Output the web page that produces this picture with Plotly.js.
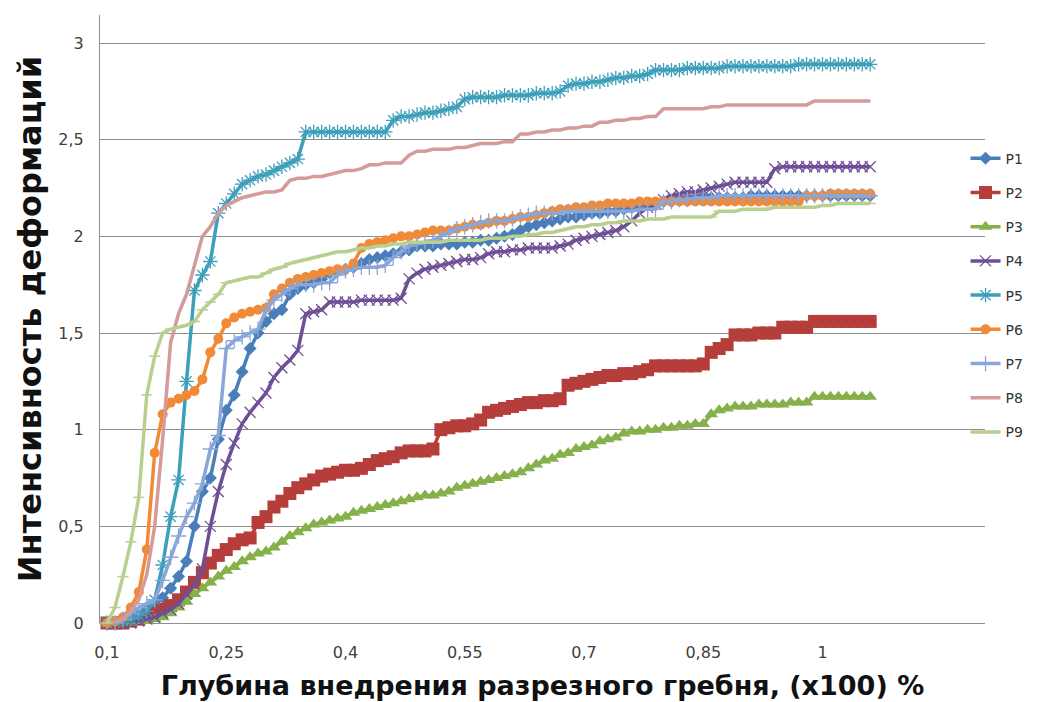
<!DOCTYPE html>
<html>
<head>
<meta charset="utf-8">
<script src="https://cdn.plot.ly/plotly-3.0.1.min.js"></script>
<style>
  html, body { margin: 0; padding: 0; background: #ffffff; }
  #chart { width: 1062px; height: 702px; }
</style>
</head>
<body>
<div id="chart"></div>
<script>
// Depth of penetration of the cutting ridge (x100 %)
const depth = [
  0.10, 0.11, 0.12, 0.13, 0.14, 0.15, 0.16, 0.17, 0.18, 0.19,
  0.20, 0.21, 0.22, 0.23, 0.24, 0.25, 0.26, 0.27, 0.28, 0.29,
  0.30, 0.31, 0.32, 0.33, 0.34, 0.35, 0.36, 0.37, 0.38, 0.39,
  0.40, 0.41, 0.42, 0.43, 0.44, 0.45, 0.46, 0.47, 0.48, 0.49,
  0.50, 0.51, 0.52, 0.53, 0.54, 0.55, 0.56, 0.57, 0.58, 0.59,
  0.60, 0.61, 0.62, 0.63, 0.64, 0.65, 0.66, 0.67, 0.68, 0.69,
  0.70, 0.71, 0.72, 0.73, 0.74, 0.75, 0.76, 0.77, 0.78, 0.79,
  0.80, 0.81, 0.82, 0.83, 0.84, 0.85, 0.86, 0.87, 0.88, 0.89,
  0.90, 0.91, 0.92, 0.93, 0.94, 0.95, 0.96, 0.97, 0.98, 0.99,
  1.00, 1.01, 1.02, 1.03, 1.04, 1.05, 1.06
];

// Strain intensity for each point P1..P9
const P1 = [
  0.00, 0.00, 0.00, 0.02, 0.04, 0.07, 0.10, 0.13, 0.18, 0.24,
  0.32, 0.50, 0.68, 0.75, 0.95, 1.10, 1.18, 1.30, 1.42, 1.50,
  1.56, 1.60, 1.62, 1.70, 1.73, 1.75, 1.76, 1.78, 1.81, 1.82,
  1.83, 1.84, 1.86, 1.88, 1.89, 1.90, 1.91, 1.92, 1.93, 1.95,
  1.95, 1.95, 1.96, 1.96, 1.96, 1.97, 1.97, 1.98, 1.98, 1.99,
  2.00, 2.01, 2.03, 2.05, 2.06, 2.07, 2.08, 2.09, 2.10, 2.10,
  2.11, 2.12, 2.12, 2.13, 2.13, 2.14, 2.15, 2.16, 2.16, 2.17,
  2.18, 2.18, 2.19, 2.19, 2.19, 2.20, 2.20, 2.20, 2.20, 2.20,
  2.20, 2.21, 2.21, 2.21, 2.21, 2.21, 2.21, 2.21, 2.21, 2.21,
  2.21, 2.21, 2.21, 2.21, 2.21, 2.21, 2.21
];
const P2 = [
  0.00, 0.00, 0.00, 0.01, 0.02, 0.03, 0.05, 0.07, 0.09, 0.12,
  0.16, 0.21, 0.26, 0.31, 0.35, 0.38, 0.41, 0.43, 0.44, 0.52,
  0.55, 0.60, 0.63, 0.67, 0.70, 0.72, 0.74, 0.76, 0.77, 0.78,
  0.79, 0.79, 0.80, 0.82, 0.84, 0.85, 0.86, 0.88, 0.89, 0.89,
  0.89, 0.90, 1.00, 1.01, 1.02, 1.02, 1.03, 1.05, 1.09, 1.10,
  1.11, 1.12, 1.13, 1.14, 1.14, 1.15, 1.15, 1.16, 1.23, 1.24,
  1.25, 1.26, 1.27, 1.28, 1.28, 1.29, 1.29, 1.30, 1.31, 1.33,
  1.33, 1.33, 1.33, 1.33, 1.33, 1.34, 1.40, 1.42, 1.44, 1.49,
  1.49, 1.49, 1.50, 1.50, 1.50, 1.53, 1.53, 1.53, 1.53, 1.56,
  1.56, 1.56, 1.56, 1.56, 1.56, 1.56, 1.56
];
const P3 = [
  0.00, 0.00, 0.00, 0.00, 0.01, 0.01, 0.02, 0.03, 0.05, 0.08,
  0.11, 0.15, 0.18, 0.21, 0.24, 0.27, 0.29, 0.32, 0.34, 0.36,
  0.37, 0.39, 0.42, 0.45, 0.47, 0.49, 0.51, 0.52, 0.53, 0.54,
  0.55, 0.57, 0.58, 0.59, 0.60, 0.61, 0.62, 0.63, 0.64, 0.65,
  0.66, 0.66, 0.67, 0.68, 0.70, 0.71, 0.72, 0.73, 0.74, 0.75,
  0.76, 0.77, 0.78, 0.80, 0.82, 0.84, 0.85, 0.87, 0.88, 0.90,
  0.91, 0.92, 0.94, 0.95, 0.96, 0.98, 0.99, 0.99, 1.00, 1.00,
  1.01, 1.01, 1.02, 1.02, 1.03, 1.03, 1.08, 1.10, 1.11, 1.12,
  1.12, 1.12, 1.13, 1.13, 1.13, 1.13, 1.14, 1.14, 1.14, 1.17,
  1.17, 1.17, 1.17, 1.17, 1.17, 1.17, 1.17
];
const P4 = [
  0.00, 0.00, 0.00, 0.00, 0.01, 0.02, 0.03, 0.05, 0.07, 0.10,
  0.15, 0.20, 0.28, 0.50, 0.68, 0.82, 0.93, 1.03, 1.09, 1.14,
  1.19, 1.27, 1.32, 1.36, 1.41, 1.60, 1.61, 1.62, 1.66, 1.66,
  1.66, 1.66, 1.67, 1.67, 1.67, 1.67, 1.67, 1.68, 1.78, 1.81,
  1.83, 1.84, 1.85, 1.86, 1.87, 1.88, 1.88, 1.89, 1.91, 1.92,
  1.92, 1.93, 1.93, 1.94, 1.94, 1.94, 1.94, 1.95, 1.96, 1.98,
  1.99, 2.00, 2.01, 2.02, 2.03, 2.05, 2.08, 2.12, 2.15, 2.17,
  2.19, 2.21, 2.22, 2.23, 2.23, 2.24, 2.25, 2.26, 2.27, 2.28,
  2.28, 2.28, 2.28, 2.28, 2.35, 2.36, 2.36, 2.36, 2.36, 2.36,
  2.36, 2.36, 2.36, 2.36, 2.36, 2.36, 2.36
];
const P5 = [
  0.00, 0.00, 0.01, 0.02, 0.04, 0.06, 0.12, 0.30, 0.55, 0.74,
  1.25, 1.72, 1.80, 1.87, 2.12, 2.17, 2.22, 2.27, 2.29, 2.31,
  2.32, 2.34, 2.36, 2.38, 2.40, 2.54, 2.54, 2.54, 2.54, 2.54,
  2.54, 2.54, 2.54, 2.54, 2.54, 2.54, 2.60, 2.62, 2.62, 2.63,
  2.64, 2.64, 2.65, 2.66, 2.67, 2.71, 2.72, 2.72, 2.72, 2.72,
  2.73, 2.73, 2.73, 2.73, 2.74, 2.74, 2.74, 2.75, 2.78, 2.79,
  2.79, 2.80, 2.80, 2.81, 2.82, 2.82, 2.83, 2.83, 2.84, 2.86,
  2.86, 2.86, 2.86, 2.87, 2.87, 2.87, 2.87, 2.87, 2.88, 2.88,
  2.88, 2.88, 2.88, 2.88, 2.88, 2.88, 2.88, 2.89, 2.89, 2.89,
  2.89, 2.89, 2.89, 2.89, 2.89, 2.89, 2.89
];
const P6 = [
  0.00, 0.01, 0.03, 0.08, 0.16, 0.38, 0.88, 1.08, 1.14, 1.16,
  1.18, 1.20, 1.26, 1.40, 1.47, 1.55, 1.58, 1.60, 1.61, 1.62,
  1.63, 1.70, 1.73, 1.76, 1.78, 1.79, 1.80, 1.81, 1.82, 1.83,
  1.83, 1.86, 1.94, 1.96, 1.97, 1.98, 1.99, 2.00, 2.00, 2.01,
  2.02, 2.03, 2.03, 2.03, 2.04, 2.05, 2.06, 2.06, 2.07, 2.08,
  2.08, 2.09, 2.10, 2.10, 2.11, 2.12, 2.13, 2.14, 2.14, 2.15,
  2.15, 2.16, 2.16, 2.17, 2.17, 2.17, 2.17, 2.18, 2.18, 2.18,
  2.18, 2.18, 2.18, 2.18, 2.18, 2.18, 2.18, 2.18, 2.18, 2.18,
  2.18, 2.18, 2.18, 2.18, 2.18, 2.18, 2.18, 2.18, 2.21, 2.21,
  2.21, 2.22, 2.22, 2.22, 2.22, 2.22, 2.22
];
const P7 = [
  0.00, 0.00, 0.02, 0.05, 0.08, 0.10, 0.12, 0.22, 0.34, 0.45,
  0.55, 0.62, 0.72, 0.90, 0.97, 1.42, 1.46, 1.48, 1.50, 1.52,
  1.62, 1.67, 1.70, 1.73, 1.75, 1.75, 1.75, 1.76, 1.76, 1.80,
  1.82, 1.83, 1.84, 1.84, 1.84, 1.85, 1.89, 1.92, 1.95, 1.96,
  1.97, 1.98, 2.00, 2.02, 2.04, 2.05, 2.06, 2.07, 2.08, 2.08,
  2.08, 2.09, 2.10, 2.11, 2.12, 2.12, 2.12, 2.12, 2.13, 2.13,
  2.13, 2.13, 2.13, 2.13, 2.13, 2.13, 2.13, 2.14, 2.14, 2.14,
  2.18, 2.18, 2.19, 2.19, 2.20, 2.20, 2.20, 2.21, 2.21, 2.21,
  2.21, 2.21, 2.21, 2.21, 2.21, 2.21, 2.21, 2.21, 2.21, 2.21,
  2.21, 2.21, 2.21, 2.21, 2.21, 2.21, 2.21
];
const P8 = [
  0.00, 0.00, 0.02, 0.06, 0.12, 0.25, 0.50, 0.95, 1.45, 1.60,
  1.70, 1.85, 2.00, 2.05, 2.12, 2.16, 2.18, 2.20, 2.21, 2.22,
  2.23, 2.23, 2.24, 2.29, 2.30, 2.30, 2.31, 2.31, 2.32, 2.33,
  2.34, 2.34, 2.35, 2.37, 2.37, 2.38, 2.38, 2.38, 2.42, 2.44,
  2.44, 2.45, 2.45, 2.45, 2.46, 2.46, 2.47, 2.48, 2.48, 2.48,
  2.49, 2.49, 2.53, 2.53, 2.54, 2.54, 2.55, 2.55, 2.56, 2.56,
  2.57, 2.57, 2.59, 2.59, 2.60, 2.60, 2.61, 2.61, 2.62, 2.62,
  2.66, 2.66, 2.66, 2.66, 2.66, 2.66, 2.67, 2.67, 2.68, 2.68,
  2.68, 2.68, 2.68, 2.68, 2.68, 2.68, 2.68, 2.68, 2.68, 2.70,
  2.70, 2.70, 2.70, 2.70, 2.70, 2.70, 2.70
];
const P9 = [
  0.00, 0.08, 0.24, 0.42, 0.65, 1.18, 1.38, 1.50, 1.52, 1.53,
  1.54, 1.56, 1.62, 1.66, 1.70, 1.76, 1.77, 1.78, 1.79, 1.79,
  1.81, 1.83, 1.84, 1.86, 1.87, 1.88, 1.89, 1.90, 1.91, 1.92,
  1.92, 1.93, 1.94, 1.94, 1.95, 1.95, 1.96, 1.96, 1.97, 1.97,
  1.97, 1.97, 1.97, 1.98, 1.98, 1.98, 1.98, 1.98, 1.99, 1.99,
  1.99, 2.00, 2.00, 2.01, 2.01, 2.02, 2.02, 2.03, 2.04, 2.05,
  2.05, 2.06, 2.06, 2.07, 2.07, 2.08, 2.08, 2.08, 2.09, 2.09,
  2.09, 2.10, 2.10, 2.10, 2.10, 2.10, 2.10, 2.13, 2.13, 2.13,
  2.14, 2.14, 2.14, 2.14, 2.15, 2.15, 2.15, 2.15, 2.15, 2.15,
  2.16, 2.16, 2.17, 2.17, 2.17, 2.17, 2.17
];

// Axis ticks
const xTickVals = [0.1, 0.25, 0.4, 0.55, 0.7, 0.85, 1];
const xTickText = ['0,1', '0,25', '0,4', '0,55', '0,7', '0,85', '1'];
const yTickVals = [0, 0.5, 1, 1.5, 2, 2.5, 3];
const yTickText = ['0', '0,5', '1', '1,5', '2', '2,5', '3'];

const seriesNames = ['P1', 'P2', 'P3', 'P4', 'P5', 'P6', 'P7', 'P8', 'P9'];
const seriesValues = [P1, P2, P3, P4, P5, P6, P7, P8, P9];

// Line colour and marker look for each series
const styles = [
  { color: '#4a7ebb', symbol: 'diamond', size: 10, lw: 0 },
  { color: '#b53d3a', symbol: 'square', size: 13, lw: 0 },
  { color: '#86b04a', symbol: 'triangle-up', size: 12, lw: 0 },
  { color: '#6f4f96', symbol: 'x-thin-open', size: 11, lw: 1.3 },
  { color: '#3d9fba', symbol: 'asterisk-open', size: 12, lw: 1.3 },
  { color: '#f08a36', symbol: 'circle', size: 10, lw: 0 },
  { color: '#8aa6d8', symbol: 'cross-thin-open', size: 11, lw: 1.3 },
  { color: '#d59a9a', symbol: 'line-ew-open', size: 1, lw: 0 },
  { color: '#b9cf8f', symbol: 'line-ew-open', size: 8, lw: 1.5 }
];

const traces = seriesNames.map((name, i) => {
  const s = styles[i];
  return {
    type: 'scatter',
    mode: 'lines+markers',
    name: name,
    legendgroup: name,
    x: depth,
    y: seriesValues[i],
    cliponaxis: false,
    line: { color: s.color, width: 3.5 },
    marker: {
      symbol: s.symbol,
      size: s.size,
      color: s.color,
      line: { color: s.color, width: s.lw }
    }
  };
});

const titleFont = 'DejaVu Sans, Verdana, sans-serif';

const layout = {
  width: 1062,
  height: 702,
  paper_bgcolor: '#ffffff',
  plot_bgcolor: '#ffffff',
  margin: { l: 100, r: 77, t: 15, b: 79 },
  font: { family: 'DejaVu Sans, Verdana, sans-serif', color: '#404040' },
  showlegend: true,
  legend: {
    x: 0.978, xanchor: 'left',
    y: 0.79, yanchor: 'top',
    bgcolor: 'rgba(0,0,0,0)',
    font: { size: 14, color: '#333333' },
    traceorder: 'grouped',
    tracegroupgap: 13
  },
  xaxis: {
    range: [0.0912, 1.2044],
    tickmode: 'array',
    tickvals: xTickVals,
    ticktext: xTickText,
    showgrid: false,
    zeroline: false,
    showline: false,
    ticks: '',
    ticklabelstandoff: 18,
    tickfont: { size: 16, color: '#404040' },
    title: {
      text: 'Глубина внедрения разрезного гребня, (х100) %',
      font: { size: 27, color: '#111111', family: titleFont, weight: 'bold' },
      standoff: 15
    }
  },
  yaxis: {
    range: [0, 3.145],
    tickmode: 'array',
    tickvals: yTickVals,
    ticktext: yTickText,
    showgrid: true,
    gridcolor: '#8f8f8f',
    gridwidth: 1,
    zeroline: true,
    zerolinecolor: '#8f8f8f',
    zerolinewidth: 1,
    showline: true,
    linecolor: '#8f8f8f',
    linewidth: 1,
    ticks: '',
    ticklabelstandoff: 12,
    tickfont: { size: 16, color: '#404040' },
    title: {
      text: 'Интенсивность деформаций',
      font: { size: 32, color: '#111111', family: titleFont, weight: 'bold' },
      standoff: 7
    }
  }
};

Plotly.newPlot('chart', traces, layout, { displayModeBar: false, staticPlot: true });
</script>
</body>
</html>
